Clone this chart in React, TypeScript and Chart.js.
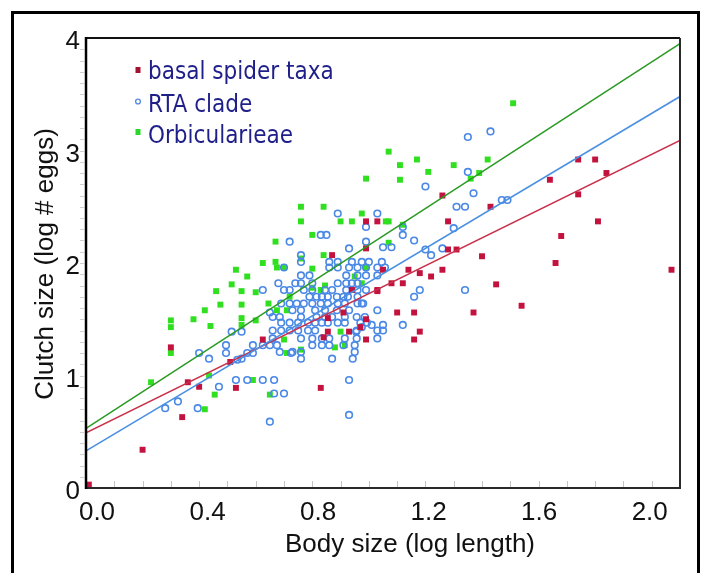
import React, { useEffect, useRef } from "react";
import { Chart, registerables } from "chart.js";

Chart.register(...registerables);

// ---------- data ----------
const xTicks = [0, 0.4, 0.8, 1.2, 1.6, 2.0];
const xTickLabels = ["0.0", "0.4", "0.8", "1.2", "1.6", "2.0"];
const yTicks = [0, 1, 2, 3, 4];
const yTickLabels = ["0", "1", "2", "3", "4"];

const seriesNames = ["basal spider taxa", "RTA clade", "Orbicularieae"];

const basalPoints: [number, number][] = [
  [0.01, 0.03], [0.2, 0.34], [0.3, 1.25], [0.34, 0.63], [0.36, 0.94], [0.4, 0.9],
  [0.51, 1.12], [0.53, 0.89], [0.625, 1.32], [0.83, 0.89], [0.84, 1.34], [0.855, 1.39],
  [0.855, 1.51], [0.91, 1.56], [0.93, 1.39], [0.97, 1.43], [0.99, 1.32], [0.99, 1.5],
  [0.94, 1.76], [1.03, 1.76], [0.87, 2.07], [0.99, 2.13], [0.99, 2.37], [1.03, 2.37],
  [1.05, 1.94], [1.03, 1.75], [1.08, 1.82], [1.12, 1.82], [1.14, 1.94], [1.18, 1.91],
  [1.22, 1.88], [1.26, 1.94], [1.28, 2.12], [1.31, 2.12], [1.1, 1.56], [1.16, 1.56],
  [1.18, 1.39], [1.16, 1.32], [1.26, 2.6], [1.28, 2.37], [1.43, 2.5], [1.64, 2.74],
  [1.74, 2.92], [1.8, 2.92], [1.84, 2.8], [1.74, 2.61], [1.81, 2.37], [1.68, 2.24],
  [1.66, 2.0], [2.07, 1.94], [1.54, 1.62], [1.45, 1.81], [1.4, 2.06], [1.37, 1.56],
];

const rtaPoints: [number, number][] = [
  [0.28, 0.71], [0.325, 0.77], [0.395, 0.71], [0.4, 1.2], [0.435, 1.15], [0.47, 0.9],
  [0.495, 1.27], [0.495, 1.2], [0.515, 1.39], [0.55, 1.39], [0.53, 0.96], [0.535, 1.14],
  [0.55, 1.15], [0.57, 1.2], [0.59, 1.2], [0.57, 0.96], [0.625, 0.96], [0.65, 0.59],
  [0.665, 0.96], [0.665, 0.84], [0.7, 0.84], [0.725, 1.2], [0.93, 0.96], [0.93, 0.65],
  [0.86, 2.01], [0.89, 2.01], [0.94, 2.01], [0.975, 2.01], [1.0, 2.01], [1.046, 2.01],
  [0.86, 1.96], [0.89, 1.96], [0.93, 1.96], [0.96, 1.96], [0.99, 1.96], [1.03, 1.96], [1.057, 1.96],
  [0.76, 1.89], [0.79, 1.89], [0.92, 1.89], [0.96, 1.89], [0.99, 1.89], [1.03, 1.89],
  [0.68, 1.82], [0.74, 1.82], [0.76, 1.82], [0.8, 1.82], [0.89, 1.82], [0.92, 1.82], [0.94, 1.82], [0.96, 1.82],
  [0.625, 1.76], [0.7, 1.76], [0.72, 1.76], [0.77, 1.76], [0.8, 1.76], [0.845, 1.76], [0.87, 1.76],
  [0.92, 1.76], [0.96, 1.76], [0.99, 1.76],
  [0.79, 1.7], [0.815, 1.7], [0.834, 1.7], [0.855, 1.7], [0.887, 1.7], [0.91, 1.7], [0.926, 1.7], [0.96, 1.7],
  [0.69, 1.64], [0.72, 1.64], [0.745, 1.64], [0.77, 1.64], [0.8, 1.64], [0.83, 1.64], [0.855, 1.64],
  [0.89, 1.64], [0.915, 1.64], [0.96, 1.64], [0.98, 1.64],
  [0.73, 1.58], [0.76, 1.58], [0.81, 1.58], [0.845, 1.58], [0.887, 1.58], [0.93, 1.58], [1.03, 1.58],
  [0.66, 1.52], [0.685, 1.52], [0.76, 1.52], [0.815, 1.52], [0.845, 1.52], [0.87, 1.52], [0.915, 1.52],
  [0.957, 1.52], [0.986, 1.52],
  [0.69, 1.47], [0.72, 1.47], [0.75, 1.47], [0.785, 1.47], [0.81, 1.47], [0.834, 1.47], [0.855, 1.47],
  [0.89, 1.47], [0.915, 1.47], [0.97, 1.47], [0.993, 1.47],
  [0.66, 1.4], [0.69, 1.4], [0.72, 1.4], [0.75, 1.4], [0.785, 1.4], [0.81, 1.4], [0.957, 1.4], [1.03, 1.4], [1.05, 1.4],
  [0.66, 1.33], [0.76, 1.33], [0.8, 1.33], [0.834, 1.33], [0.86, 1.33], [0.915, 1.33], [0.957, 1.33], [1.03, 1.33],
  [0.59, 1.27], [0.625, 1.27], [0.65, 1.27], [0.675, 1.27], [0.8, 1.27], [0.834, 1.27], [0.86, 1.27],
  [0.91, 1.27], [0.95, 1.27],
  [0.685, 1.21], [0.73, 1.21], [0.76, 1.21], [0.95, 1.21],
  [0.76, 1.15], [0.87, 1.15], [0.943, 1.15],
  [0.89, 2.44], [1.03, 2.44], [0.99, 2.32], [0.83, 2.25], [0.85, 2.25], [0.72, 2.19], [0.76, 2.07],
  [0.93, 2.13], [0.99, 2.19], [0.76, 2.01], [0.7, 1.96],
  [1.35, 3.12], [1.43, 3.17], [1.35, 2.81], [1.2, 2.68], [1.37, 2.62], [1.31, 2.5], [1.34, 2.5],
  [1.47, 2.56], [1.49, 2.56], [1.3, 2.31], [1.12, 2.32], [1.12, 2.25], [1.16, 2.2], [1.05, 2.14],
  [1.08, 2.14], [1.26, 2.13], [1.22, 2.07], [1.2, 2.12],
  [1.34, 1.76], [1.18, 1.76], [1.16, 1.7], [1.12, 1.45], [1.05, 1.45], [1.01, 1.45], [0.975, 1.43],
  [0.955, 1.39], [0.975, 1.64], [0.65, 1.56],
];

const orbPoints: [number, number][] = [
  [0.23, 0.94], [0.3, 1.2], [0.3, 1.49], [0.3, 1.43], [0.38, 1.5], [0.42, 1.58], [0.44, 1.44],
  [0.42, 0.7], [0.435, 1.0], [0.455, 0.83], [0.46, 1.75], [0.475, 1.63], [0.515, 1.81], [0.53, 1.94],
  [0.55, 1.75], [0.55, 1.63], [0.55, 1.51], [0.55, 1.45], [0.57, 1.88], [0.59, 0.96], [0.6, 1.49],
  [0.6, 1.74], [0.625, 2.0], [0.645, 1.64], [0.65, 0.83], [0.67, 2.01], [0.67, 2.19], [0.675, 1.96],
  [0.7, 1.96], [0.7, 1.32], [0.675, 1.58], [0.71, 1.58], [0.71, 1.2], [0.72, 1.7], [0.76, 2.5],
  [0.76, 2.37], [0.76, 2.04], [0.76, 1.23], [0.8, 2.25], [0.8, 1.95], [0.8, 1.78], [0.83, 1.76],
  [0.84, 2.5], [0.84, 2.07], [0.845, 1.8], [0.88, 1.25], [0.9, 1.39], [0.9, 2.37], [0.915, 1.27],
  [0.94, 2.37], [0.95, 1.88], [0.975, 2.44], [0.975, 1.82], [0.99, 2.75], [0.99, 1.96], [1.06, 2.37],
  [1.07, 2.37], [1.07, 2.99], [1.07, 2.18], [1.11, 2.87], [1.11, 2.74], [1.12, 2.34], [1.17, 2.92],
  [1.21, 2.81], [1.3, 2.87], [1.36, 2.75], [1.39, 2.8], [1.42, 2.92], [1.51, 3.42],
];

// regression lines (endpoints)
const fitX = [0, 2.1];
const basalFitY = [0.49, 3.09];
const rtaFitY = [0.33, 3.48];
const orbFitY = [0.53, 3.95];

// ---------- styles ----------
const RED = "#c3123d";
const BLUE = "#4a88e6";
const GREEN = "#30e020";
const LEGEND_COLORS = ["#a5102f", "#5a8ee0", "#2ad82a"];
const TEXT_FONT = "'Liberation Sans', Arial, sans-serif";

const toXY = (pts: [number, number][]) => pts.map(([x, y]) => ({ x, y }));
const toLine = (ys: number[]) => fitX.map((x, i) => ({ x, y: ys[i] }));

const decorPlugin = {
  id: "decor",
  beforeDraw(chart: any) {
    const { ctx, width, height } = chart;
    ctx.save();
    ctx.fillStyle = "#ffffff";
    ctx.fillRect(0, 0, width, height);
    ctx.restore();
  },
  beforeDatasetsDraw(chart: any) {
    const { ctx, chartArea: a, scales } = chart;
    const xs = scales.x, ys = scales.y;
    ctx.save();
    ctx.strokeStyle = "#c4c4c4";
    ctx.lineWidth = 1;
    for (let i = 1; i < 21; i++) {
      const px = Math.round(xs.getPixelForValue(i / 10)) + 0.5;
      ctx.beginPath();
      ctx.moveTo(px, a.bottom);
      ctx.lineTo(px, a.bottom - 7);
      ctx.stroke();
    }
    ctx.strokeStyle = "#d0d0d0";
    for (let i = 1; i < 40; i++) {
      const py = Math.round(ys.getPixelForValue(i / 10)) + 0.5;
      ctx.beginPath();
      ctx.moveTo(a.left - 6, py);
      ctx.lineTo(a.left - 2, py);
      ctx.stroke();
    }
    ctx.restore();
  },
  afterDraw(chart: any) {
    const { ctx, chartArea: a, scales } = chart;
    const xs = scales.x, ys = scales.y;
    ctx.save();
    // plot frame
    ctx.lineWidth = 2;
    ctx.strokeStyle = "#111111";
    ctx.beginPath();
    ctx.moveTo(a.left, a.top);
    ctx.lineTo(a.right, a.top);
    ctx.stroke();
    ctx.strokeStyle = "#2a2a2a";
    ctx.beginPath();
    ctx.moveTo(a.right, a.top);
    ctx.lineTo(a.right, a.bottom);
    ctx.lineTo(a.left, a.bottom);
    ctx.stroke();
    ctx.lineWidth = 2.5;
    ctx.strokeStyle = "#000000";
    ctx.beginPath();
    ctx.moveTo(a.left, a.top - 1);
    ctx.lineTo(a.left, a.bottom + 1);
    ctx.stroke();

    // figure frame
    ctx.lineWidth = 3;
    ctx.strokeStyle = "#000000";
    ctx.beginPath();
    ctx.moveTo(12.5, chart.height + 5);
    ctx.lineTo(12.5, 12.5);
    ctx.lineTo(698.5, 12.5);
    ctx.lineTo(698.5, chart.height + 5);
    ctx.stroke();

    // tick labels
    ctx.fillStyle = "#111111";
    ctx.font = `26px ${TEXT_FONT}`;
    ctx.textBaseline = "alphabetic";
    ctx.textAlign = "center";
    xTicks.forEach((v, i) => {
      const px = xs.getPixelForValue(v) + 11 - 6.5 * v;
      ctx.fillText(xTickLabels[i], px, a.bottom + 32);
    });
    ctx.textAlign = "right";
    yTicks.forEach((v, i) => {
      const py = ys.getPixelForValue(v) + 11;
      ctx.fillText(yTickLabels[i], a.left - 6, py);
    });

    // axis titles
    ctx.textAlign = "center";
    ctx.fillText("Body size (log length)", a.left + 324, a.bottom + 64);
    ctx.save();
    ctx.translate(53, (a.top + a.bottom) / 2 + 1);
    ctx.rotate(-Math.PI / 2);
    ctx.fillText("Clutch size (log # eggs)", 0, 0);
    ctx.restore();

    // legend
    ctx.font = "24px 'DejaVu Sans Condensed', 'DejaVu Sans', sans-serif";
    ctx.textAlign = "left";
    ctx.fillStyle = "#1f1f8a";
    const baselines = [79, 111.5, 143];
    const markerY = [70, 101.5, 132];
    seriesNames.forEach((name, i) => {
      ctx.fillStyle = "#1f1f8a";
      ctx.fillText(name, a.left + 62, baselines[i]);
      const mx = a.left + 52;
      if (i === 1) {
        ctx.strokeStyle = LEGEND_COLORS[i];
        ctx.lineWidth = 1.4;
        ctx.beginPath();
        ctx.arc(mx, markerY[i], 2.4, 0, Math.PI * 2);
        ctx.stroke();
      } else {
        ctx.fillStyle = LEGEND_COLORS[i];
        ctx.fillRect(mx - 2.5, markerY[i] - 3, 5, 6);
      }
    });
    ctx.restore();
  },
};

export default function App() {
  const canvasRef = useRef<HTMLCanvasElement | null>(null);

  useEffect(() => {
    const canvas = canvasRef.current;
    if (!canvas) return;
    const chart = new Chart(canvas, {
      type: "scatter",
      data: {
        datasets: [
          {
            type: "line",
            label: "fit orb",
            data: toLine(orbFitY),
            borderColor: "#2a9a22",
            borderWidth: 1.6,
            pointRadius: 0,
            fill: false,
          },
          {
            type: "line",
            label: "fit rta",
            data: toLine(rtaFitY),
            borderColor: "#4a90e2",
            borderWidth: 1.6,
            pointRadius: 0,
            fill: false,
          },
          {
            type: "line",
            label: "fit basal",
            data: toLine(basalFitY),
            borderColor: "#c8304a",
            borderWidth: 1.6,
            pointRadius: 0,
            fill: false,
          },
          {
            label: seriesNames[0],
            data: toXY(basalPoints),
            pointStyle: "rect",
            pointRadius: 4.2,
            backgroundColor: RED,
            borderWidth: 0,
          },
          {
            label: seriesNames[1],
            data: toXY(rtaPoints),
            pointStyle: "circle",
            pointRadius: 3.3,
            backgroundColor: "rgba(255,255,255,0)",
            borderColor: BLUE,
            borderWidth: 1.6,
          },
          {
            label: seriesNames[2],
            data: toXY(orbPoints),
            pointStyle: "rect",
            pointRadius: 4.2,
            backgroundColor: GREEN,
            borderWidth: 0,
          },
        ],
      },
      options: {
        animation: false,
        responsive: false,
        devicePixelRatio: 1,
        layout: { padding: { left: 0, right: 25, top: 38, bottom: 0 } },
        plugins: {
          legend: { display: false },
          tooltip: { enabled: false },
        },
        scales: {
          x: {
            type: "linear",
            min: 0,
            max: 2.1,
            grid: { display: false },
            border: { display: false },
            ticks: { display: false },
            afterFit: (s: any) => {
              s.height = 85;
            },
          },
          y: {
            type: "linear",
            min: 0,
            max: 4,
            grid: { display: false },
            border: { display: false },
            ticks: { display: false },
            afterFit: (s: any) => {
              s.width = 86;
            },
          },
        },
      },
      plugins: [decorPlugin],
    });
    return () => chart.destroy();
  }, []);

  return (
    <div style={{ position: "fixed", left: 0, top: 0, width: 705, height: 573, background: "#fff" }}>
      <canvas ref={canvasRef} width={705} height={573} style={{ display: "block" }} />
    </div>
  );
}
